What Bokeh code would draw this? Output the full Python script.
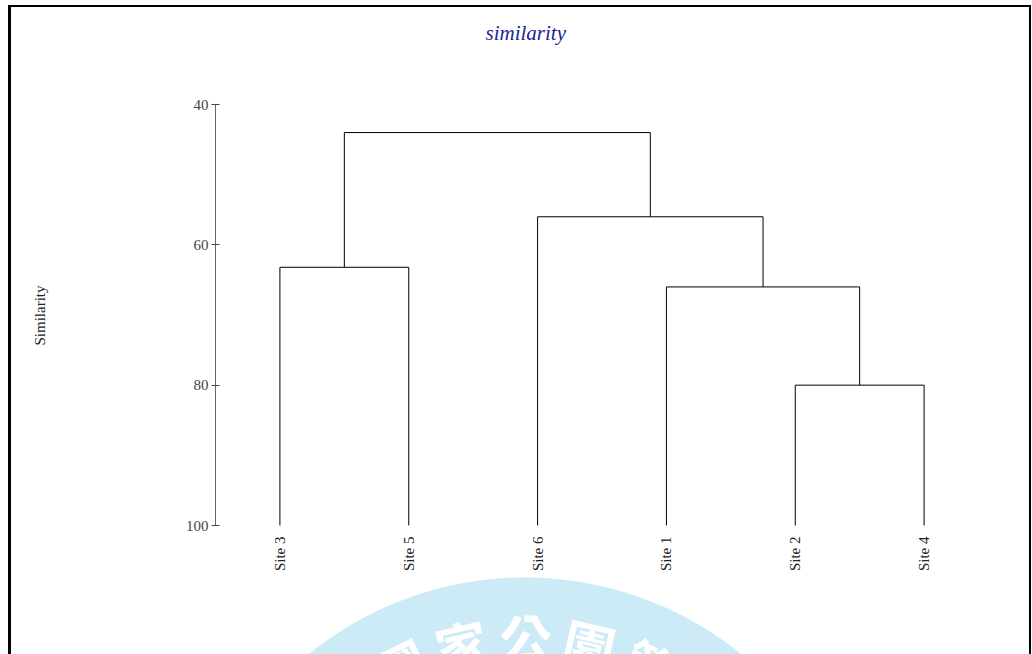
import numpy as np
from bokeh.plotting import figure
from bokeh.models import Range1d, FixedTicker, Title
from bokeh.core.properties import value
from bokeh.embed import file_html
from bokeh.resources import INLINE

# ---- data ----
sites = ["Site 3", "Site 5", "Site 6", "Site 1", "Site 2", "Site 4"]
# linkage: clusters 0..5 are the leaves, new clusters numbered 6, 7, ...
merge_a = [0, 4, 3, 2, 6]
merge_b = [1, 5, 7, 8, 9]
merge_height = [63.2, 80.0, 66.0, 56.0, 44.0]
y_ticks = [40, 60, 80, 100]
baseline = 100
top_value = 40
title_text = "similarity"
y_label = "Similarity"
watermark_chars = ["國", "家", "公", "園", "管"]

# ---- build dendrogram segments from linkage ----
node_x = [i + 0.5 for i in range(len(sites))]
node_y = [baseline] * len(sites)
x0, y0, x1, y1 = [], [], [], []
for a, b, h in zip(merge_a, merge_b, merge_height):
    xa, ya, xb, yb = node_x[a], node_y[a], node_x[b], node_y[b]
    x0 += [xa, xb, xa]
    y0 += [ya, yb, h]
    x1 += [xa, xb, xb]
    y1 += [h, h, h]
    node_x.append((xa + xb) / 2)
    node_y.append(h)

# layout (pixels): frame left/right/top, and where the baseline (100) sits
FL, FR, FT, FB = 215, 988, 104, 525
W, H = 1032, 654
ppu_y = (FB - FT) / (baseline - top_value)          # pixels per similarity unit
ppu_x = (FR - FL) / len(sites)
y_bottom = baseline + (H - FB) / ppu_y              # frame extends to the page bottom

p = figure(width=W, height=H, x_range=Range1d(0, len(sites)), y_range=Range1d(y_bottom, top_value),
           output_backend="svg", toolbar_location=None, title=title_text,
           min_border_left=FL, min_border_right=W - FR, min_border_top=FT, min_border_bottom=0)
p.xgrid.visible = False
p.ygrid.visible = False
p.outline_line_color = None
p.background_fill_color = None
p.border_fill_color = None

# page frame lines and watermark disc drawn as the figure's own CSS background
cx, cy, r = 525, 921, 344
p.styles = {
    "background": (
        "linear-gradient(#000,#000) 8px 5px / 3px 700px no-repeat, "
        "linear-gradient(#000,#000) 8px 5px / 1023px 2px no-repeat, "
        "linear-gradient(#000,#000) 1029px 5px / 2px 700px no-repeat, "
        f"radial-gradient(circle {r}px at {cx}px {cy}px, #cdeaf7 0px, #cdeaf7 {r - 1}px, "
        f"rgba(205,234,247,0) {r}px) 0 0 / 100% 100% no-repeat, #ffffff"
    )
}

# watermark characters along an arc
rt = 285
wm_x, wm_y, wm_a = [], [], []
for k in range(len(watermark_chars)):
    phi = np.radians((k - 2) * 13)
    sx = cx + rt * np.sin(phi)
    sy = cy - rt * np.cos(phi)
    wm_x.append((sx - FL) / ppu_x)
    wm_y.append(top_value + (sy - FT) / ppu_y)
    wm_a.append(-phi)
p.text(x=wm_x, y=wm_y, text=watermark_chars, angle=wm_a, text_align="center",
       text_baseline="middle", text_font=value("Noto Sans CJK TC"), text_font_style="bold",
       text_font_size="52px", text_color="white")

# dendrogram
p.segment(x0=x0, y0=y0, x1=x1, y1=y1, line_color="black", line_width=1)

# leaf labels (vertical, reading upwards) just under the baseline
p.text(x=node_x[:len(sites)], y=[baseline] * len(sites), text=sites, angle=np.pi / 2,
       text_align="right", text_baseline="middle", y_offset=11,
       text_font=value("Liberation Serif"), text_font_size="15px", text_color="#222222")

p.xaxis.visible = False

# y axis
ya = p.yaxis[0]
ya.bounds = (top_value, baseline)
ya.ticker = FixedTicker(ticks=y_ticks)
ya.minor_tick_line_color = None
ya.major_tick_in = 4
ya.major_tick_out = 4
ya.axis_line_color = "#666666"
ya.major_tick_line_color = "#444444"
ya.major_label_text_font = "Liberation Serif"
ya.major_label_text_font_size = "15px"
ya.major_label_text_color = "#444444"
ya.major_label_standoff = 3
ya.axis_label = None

# y label as a rotated side title, centred on the 40-100 span
p.add_layout(Title(text=" ", text_font_size="10px", standoff=122), "left")
p.add_layout(Title(text=y_label, align="left", offset=H - 345, vertical_align="bottom",
                   standoff=0, text_font="Liberation Serif", text_font_style="normal",
                   text_font_size="15px", text_color="#222222"), "left")

# spacer between frame and title
p.add_layout(Title(text=" ", text_font_size="10px", standoff=47), "above")

# title
p.title.align = "left"
p.title.offset = 270
p.title.standoff = 0
p.title.text_font = "Liberation Serif"
p.title.text_font_style = "italic"
p.title.text_font_size = "21px"
p.title.text_color = "#22229a"

open("out.html", "w").write(file_html(p, INLINE))
